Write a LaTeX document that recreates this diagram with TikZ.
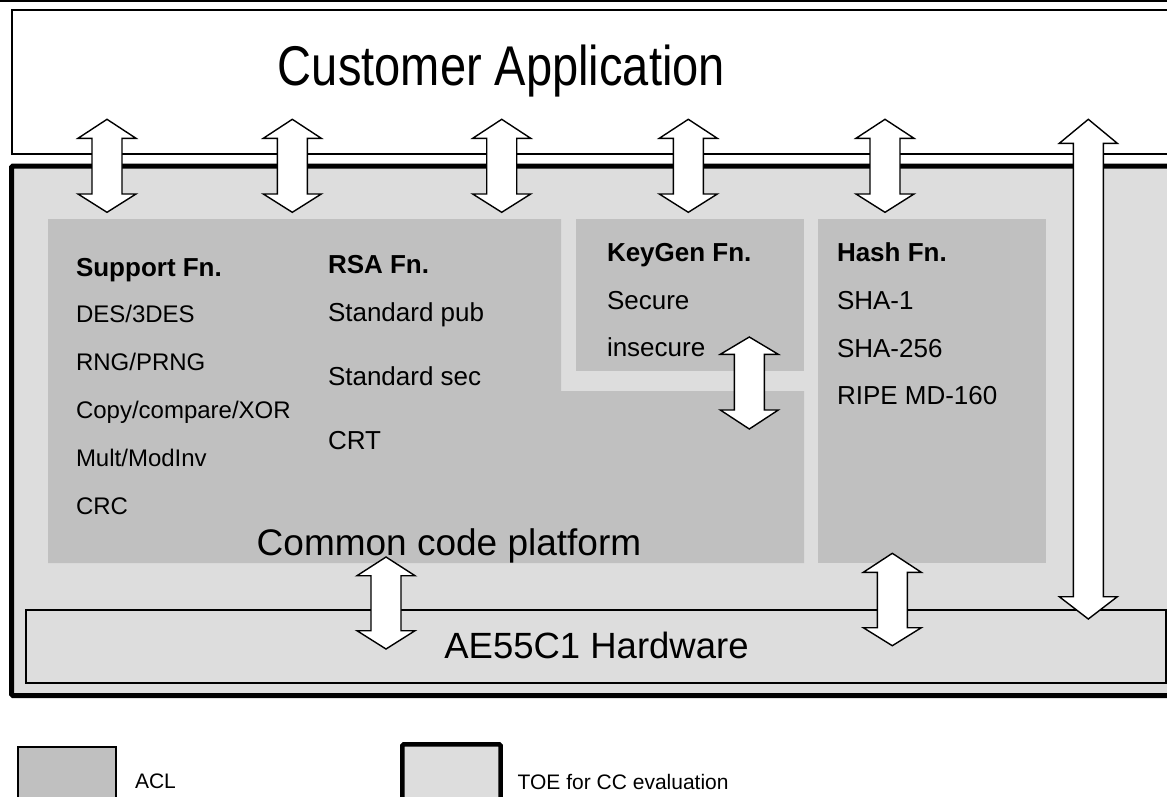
\documentclass[tikz,border=0pt]{standalone}
\usepackage{fontspec}
\setmainfont{Liberation Sans}
\definecolor{aclgray}{HTML}{C0C0C0}
\definecolor{toegray}{HTML}{DDDDDD}
\tikzset{
  every node/.style={inner sep=0pt, outer sep=0pt},
  item/.style={anchor=base west, font=\fontsize{24}{28}\selectfont},
  itembig/.style={anchor=base west, font=\fontsize{26}{30}\selectfont},
  headtxt/.style={anchor=base west, font=\bfseries\fontsize{26}{30}\selectfont},
  blockarrow/.style={draw=black, fill=white, line width=1.4pt, line join=miter},
  thinbox/.style={draw=black, line width=1.3pt},
  toeframe/.style={draw=black, line width=5pt, fill=toegray, rounded corners=1.5pt},
  legtxt/.style={anchor=base west, font=\fontsize{21}{24}\selectfont},
}
\newcommand{\dblarrow}[5]{%
  \draw[blockarrow] (#1,#2) -- (#1+29,#3) -- (#1+15,#3) -- (#1+15,#4) -- (#1+29,#4)
    -- (#1,#5) -- (#1-29,#4) -- (#1-15,#4) -- (#1-15,#3) -- (#1-29,#3) -- cycle;}
\begin{document}
\begin{tikzpicture}[x=1pt,y=-1pt]
\useasboundingbox (0,0) rectangle (1167,796);
\clip (0,0) rectangle (1167,796);
\fill[white] (0,0) rectangle (1167,796);
\draw[line width=1.5pt] (0,0.75) -- (1167,0.75);
% customer application
\draw[thinbox, fill=white] (12,10) rectangle (1185,154);
\node[anchor=base, font=\fontsize{56}{60}\selectfont] (cust) at (501.5,85) {\scalebox{0.84}[1]{Customer Application}};
% TOE
\draw[toeframe] (11.5,166) rectangle (1185,695.5);
% ACL areas
\fill[aclgray] (48,219) -- (561,219) -- (561,391) -- (804,391) -- (804,563) -- (48,563) -- cycle;
\fill[aclgray] (576,219) rectangle (804,371);
\fill[aclgray] (818,219) rectangle (1046,563);
% hardware
\draw[thinbox, fill=toegray] (26,610) rectangle (1166,683);
\node[anchor=base, font=\fontsize{36.5}{40}\selectfont] (hw) at (596.5,658) {AE55C1 Hardware};
% support
\node[headtxt] (sup) at (76,276) {Support Fn.};
\node[item] (des) at (76,322) {DES/3DES};
\node[item] (rng) at (76,370) {RNG/PRNG};
\node[item] (cpy) at (76,418) {Copy/compare/XOR};
\node[item] (mul) at (76,466) {Mult/ModInv};
\node[item] (crc) at (76,514) {CRC};
% rsa
\node[headtxt] (rsa) at (328,273) {RSA Fn.};
\node[itembig] (spub) at (328,321) {Standard pub};
\node[itembig] (ssec) at (328,385) {Standard sec};
\node[itembig] (crt) at (328,449) {CRT};
% keygen
\node[headtxt] (kg) at (607,261) {KeyGen Fn.};
\node[itembig] (sec) at (607,309) {Secure};
\node[itembig] (insec) at (607,356) {insecure};
% hash
\node[headtxt] (hash) at (837,261) {Hash Fn.};
\node[itembig] (sha1) at (837,309) {SHA-1};
\node[itembig] (sha256) at (837,357) {SHA-256};
\node[itembig] (ripe) at (837,404) {RIPE MD-160};
% common code
\node[anchor=base, font=\fontsize{37}{40}\selectfont] (ccp) at (449,555) {Common code platform};
% arrows
\dblarrow{107}{119.3}{138.3}{194}{212.3}
\dblarrow{292.3}{119.3}{138.3}{194}{212.3}
\dblarrow{501.7}{119.3}{138.3}{194}{212.3}
\dblarrow{688.3}{119.3}{138.3}{194}{212.3}
\dblarrow{885}{119.3}{138.3}{194}{212.3}
\dblarrow{1088.3}{119.3}{143.3}{596.7}{619}
\dblarrow{749.3}{337}{354.3}{410}{429}
\dblarrow{386}{557}{575.7}{630.7}{649}
\dblarrow{892.3}{553.3}{572.3}{627.7}{645.7}
% legend
\draw[line width=1.2pt, fill=aclgray] (18,747) rectangle (116,815);
\node[legtxt] (aclleg) at (135,788) {ACL};
\draw[toeframe, line width=4.5pt] (402.3,744.3) rectangle (500.7,815);
\node[legtxt] (toeleg) at (517.7,789) {TOE for CC evaluation};
\end{tikzpicture}
\end{document}
